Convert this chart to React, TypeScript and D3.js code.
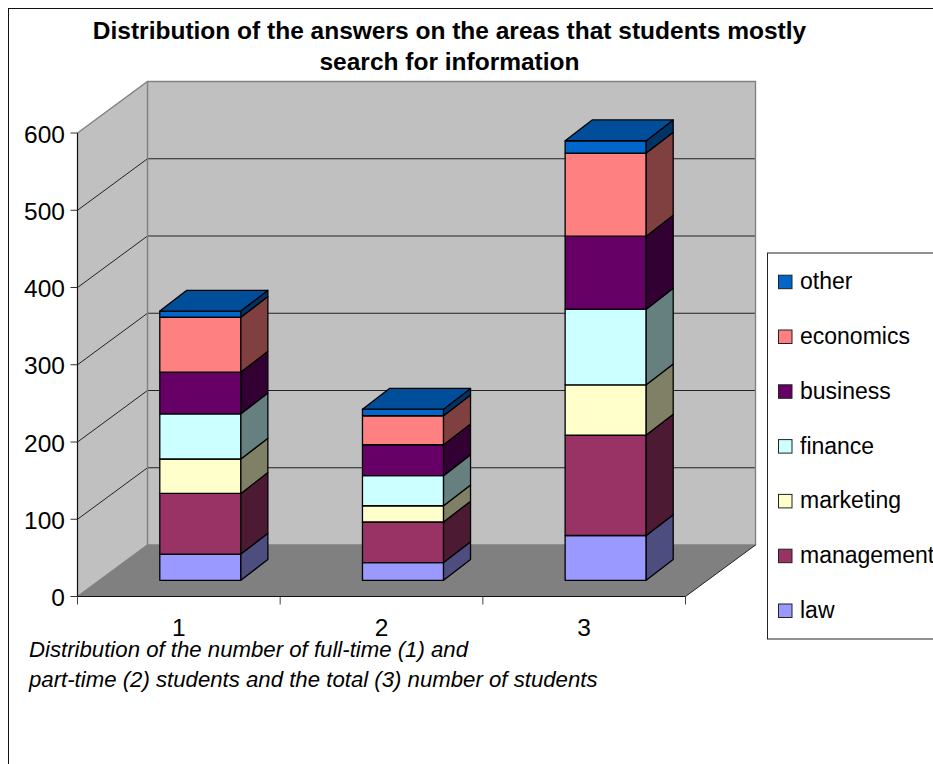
import React from "react";
import * as d3 from "d3";

// Stacked answer counts per student group, bottom of the stack first
const groups = ["1", "2", "3"];
const seriesNames = ["law", "management", "marketing", "finance", "business", "economics", "other"];
const law = [34, 23, 58];
const management = [78.5, 52.5, 130];
const marketing = [44.5, 21, 65];
const finance = [58.5, 39, 98];
const business = [54, 40, 94.5];
const economics = [71, 37.5, 107.5];
const other = [8, 8.5, 16];
const seriesValues = [law, management, marketing, finance, business, economics, other];
const seriesColors = ["#9999ff", "#993366", "#ffffcc", "#ccffff", "#660066", "#ff8080", "#0066cc"];
const yTicks = [0, 100, 200, 300, 400, 500, 600];
const titleLines = [
  "Distribution of the answers on the areas that students mostly",
  "search for information",
];
const captionLines = [
  "Distribution of the number of full-time (1) and",
  "part-time (2) students and the total (3) number of students",
];

const FONT = '"Liberation Sans", Arial, sans-serif';
const W = 933;
const H = 764;

// Front face of the plot box and the oblique offset to the back wall
const plot = { left: 77.5, right: 685.5, top: 133, bottom: 596.5 };
const wallDx = 70;
const wallDy = -51.5;
const barDx = 27;
const barDy = -20.8;
const barInsetX = 21.5;
const barInsetY = -16.2;

const x = d3.scaleBand<string>()
  .domain(groups)
  .range([plot.left, plot.right])
  .paddingInner(0.6)
  .paddingOuter(0.3);
const xOuter = d3.scaleBand<string>().domain(groups).range([plot.left, plot.right]);
const y = d3.scaleLinear().domain([0, 600]).range([plot.bottom, plot.top]);

const shade = (color: string, k: number) => {
  const c = d3.rgb(color);
  return d3.rgb(c.r * k, c.g * k, c.b * k).formatHex();
};
const poly = (pts: [number, number][]) => d3.line()(pts) + "Z";

const stack = d3.stack<number>()
  .keys(seriesNames.map((_, i) => i) as any)
  .value((d: any, key: any) => seriesValues[key][d]);
const stacked = stack(groups.map((_, i) => i) as any);

export default function App() {
  const floorBackY = plot.bottom + wallDy;
  const wallLeft = plot.left + wallDx;
  const wallRight = plot.right + wallDx;
  const wallTop = plot.top + wallDy;

  const legendSpacing = 54.8;
  const legendTop = 281.7;

  return (
    <svg
      width={W}
      height={H}
      viewBox={`0 0 ${W} ${H}`}
      style={{ position: "absolute", left: 0, top: 0, display: "block", background: "#fff" }}
      fontFamily={FONT}
    >
      <rect x={8.5} y={8.5} width={1200} height={1200} fill="#fff" stroke="#111" strokeWidth={1} />

      {titleLines.map((line, i) => (
        <text key={i} x={449.5} y={39 + i * 31} textAnchor="middle" fontSize={24.5} fontWeight="bold" fill="#000">
          {line}
        </text>
      ))}

      {/* Walls and floor of the 3D box */}
      <path
        d={poly([[wallLeft, wallTop], [wallRight, wallTop], [wallRight, floorBackY], [wallLeft, floorBackY]])}
        fill="#c0c0c0"
      />
      <path
        d={poly([[plot.left, plot.top], [wallLeft, wallTop], [wallLeft, floorBackY], [plot.left, plot.bottom]])}
        fill="#c0c0c0"
      />
      <path
        d={poly([[plot.left, plot.bottom], [plot.right, plot.bottom], [wallRight, floorBackY], [wallLeft, floorBackY]])}
        fill="#808080"
      />

      {/* Gridlines run along the left wall, then across the back wall */}
      {yTicks.filter((t) => t > 0 && t < 600).map((t) => (
        <path
          key={t}
          d={`M${plot.left},${y(t)}L${wallLeft},${y(t) + wallDy}L${wallRight},${y(t) + wallDy}`}
          fill="none"
          stroke="#222"
          strokeWidth={1}
        />
      ))}

      <path
        d={`M${plot.left},${plot.top}L${wallLeft},${wallTop}L${wallRight},${wallTop}L${wallRight},${floorBackY}L${wallLeft},${floorBackY}L${plot.left},${plot.bottom}M${wallLeft},${wallTop}L${wallLeft},${floorBackY}`}
        fill="none"
        stroke="#808080"
        strokeWidth={1.4}
      />
      <path d={`M${plot.right},${plot.bottom}L${wallRight},${floorBackY}`} stroke="#222" strokeWidth={1} fill="none" />

      {/* Stacked 3D columns */}
      {groups.map((g, gi) => {
        const x0 = (x(g) as number) + barInsetX;
        const x1 = x0 + x.bandwidth();
        return (
          <g key={g}>
            {stacked.map((layer: any, si: number) => {
              const yb = y(layer[gi][0]) + barInsetY;
              const yt = y(layer[gi][1]) + barInsetY;
              const color = seriesColors[si];
              const isTop = si === stacked.length - 1;
              return (
                <g key={si} stroke="#000" strokeWidth={1.3} strokeLinejoin="round">
                  <path d={poly([[x0, yb], [x1, yb], [x1, yt], [x0, yt]])} fill={color} />
                  <path
                    d={poly([[x1, yb], [x1 + barDx, yb + barDy], [x1 + barDx, yt + barDy], [x1, yt]])}
                    fill={shade(color, 0.5)}
                  />
                  {isTop && (
                    <path
                      d={poly([[x0, yt], [x1, yt], [x1 + barDx, yt + barDy], [x0 + barDx, yt + barDy]])}
                      fill={shade(color, 0.75)}
                    />
                  )}
                </g>
              );
            })}
          </g>
        );
      })}

      {/* Value axis */}
      <path d={`M${plot.left},${plot.top}V${plot.bottom}`} stroke="#111" strokeWidth={1.2} fill="none" />
      {yTicks.map((t) => (
        <g key={t}>
          <line x1={plot.left - 7} x2={plot.left} y1={y(t)} y2={y(t)} stroke="#333" strokeWidth={1} />
          <text x={65} y={y(t) + 9.5} textAnchor="end" fontSize={24.5} fill="#000">
            {t}
          </text>
        </g>
      ))}

      {/* Category axis */}
      <path d={`M${plot.left},${plot.bottom}H${plot.right}`} stroke="#111" strokeWidth={1.2} fill="none" />
      {groups.map((g) => {
        const x0 = xOuter(g) as number;
        return (
          <g key={g}>
            <line x1={x0} x2={x0} y1={plot.bottom} y2={plot.bottom + 8} stroke="#444" strokeWidth={1} />
            <text x={x0 + xOuter.bandwidth() / 2} y={636} textAnchor="middle" fontSize={24.5} fill="#000">
              {g}
            </text>
          </g>
        );
      })}
      <line x1={plot.right} x2={plot.right} y1={plot.bottom} y2={plot.bottom + 8} stroke="#444" strokeWidth={1} />

      {captionLines.map((line, i) => (
        <text key={i} x={29} y={656.5 + i * 30} fontSize={22.2} fontStyle="italic" fill="#000">
          {line}
        </text>
      ))}

      {/* Legend, top entry last in the stack */}
      <rect x={767.5} y={253} width={300} height={386} fill="#fff" stroke="#222" strokeWidth={1} />
      {[...seriesNames].reverse().map((name, i) => {
        const color = seriesColors[seriesNames.length - 1 - i];
        const cy = legendTop + i * legendSpacing;
        return (
          <g key={name}>
            <rect x={778.5} y={cy - 6.5} width={13.5} height={13.5} fill={color} stroke="#222" strokeWidth={1} />
            <text x={800} y={cy + 7.5} fontSize={23} fill="#000">
              {name}
            </text>
          </g>
        );
      })}
    </svg>
  );
}
